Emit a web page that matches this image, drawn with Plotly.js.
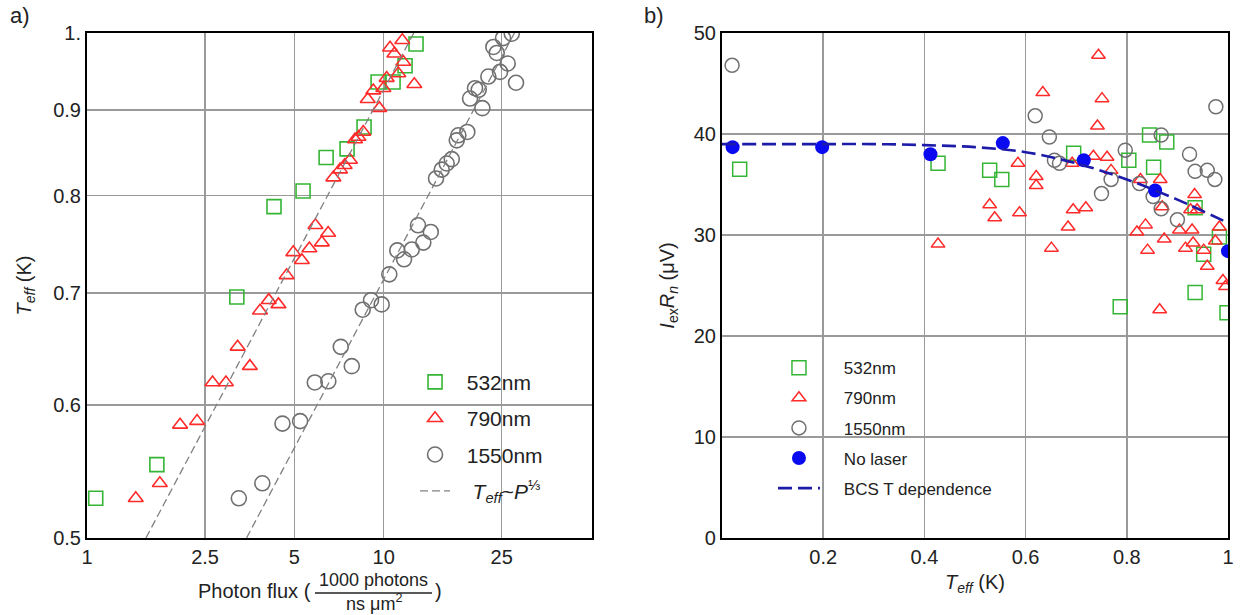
<!DOCTYPE html>
<html><head><meta charset="utf-8">
<script src="https://cdn.plot.ly/plotly-3.0.1.min.js"></script>
<style>html,body{margin:0;padding:0;background:#fff}#chart{width:1242px;height:615px}</style>
</head><body><div id="chart"></div>
<script>
// ---------- Panel a) : T_eff vs photon flux (log-log) ----------
const fluxA532 = [1.07, 1.72, 3.20, 4.27, 5.35, 6.40, 7.53, 8.59, 9.58, 10.76, 11.81, 12.86];
const teffA532 = [0.528, 0.553, 0.696, 0.788, 0.805, 0.843, 0.853, 0.879, 0.935, 0.935, 0.956, 0.985];

const fluxA790 = [1.46, 1.76, 2.06, 2.35, 2.65, 2.94, 3.22, 3.54, 3.83, 4.10, 4.42, 4.71, 4.96, 5.30, 5.62, 5.89, 6.19, 6.50, 6.77, 7.13, 7.39, 7.70, 8.01, 8.22, 8.54, 8.84, 9.23, 9.67, 9.98, 10.24, 11.21, 11.65, 10.51, 10.87, 11.56, 12.69];
const teffA790 = [0.528, 0.539, 0.584, 0.587, 0.619, 0.619, 0.650, 0.633, 0.683, 0.693, 0.689, 0.717, 0.740, 0.732, 0.744, 0.768, 0.750, 0.760, 0.820, 0.829, 0.834, 0.840, 0.864, 0.867, 0.873, 0.913, 0.924, 0.902, 0.927, 0.940, 0.946, 0.961, 0.980, 0.972, 0.990, 0.932];

const fluxA1550 = [3.25, 3.90, 4.56, 5.23, 5.86, 6.51, 7.17, 7.81, 8.50, 9.07, 9.85, 10.45, 11.12, 11.72, 12.44, 13.06, 13.61, 14.42, 15.02, 15.70, 16.32, 16.97, 17.64, 17.86, 19.15, 19.56, 20.33, 20.92, 21.52, 22.54, 23.44, 24.06, 24.69, 25.27, 26.2, 27.04, 27.95];
const teffA1550 = [0.528, 0.539, 0.585, 0.587, 0.619, 0.620, 0.650, 0.633, 0.684, 0.693, 0.689, 0.718, 0.742, 0.733, 0.743, 0.768, 0.750, 0.761, 0.819, 0.829, 0.836, 0.841, 0.863, 0.869, 0.873, 0.914, 0.927, 0.925, 0.902, 0.942, 0.981, 0.973, 0.948, 0.993, 0.959, 0.999, 0.934];

// fitted T_eff ~ P^(1/3) lines (end points)
const fitFlux = [1.58, 12.64, null, 3.45, 27.6];
const fitTeff = [0.5, 1.0, null, 0.5, 1.0];

const aXTicks = [1, 2.5, 5, 10, 25];
const aXTickText = ['1', '2.5', '5', '10', '25'];
const aYTicks = [0.5, 0.6, 0.7, 0.8, 0.9, 1.0];
const aYTickText = ['0.5', '0.6', '0.7', '0.8', '0.9', '1.'];

// ---------- Panel b) : I_ex R_n vs T_eff ----------
const teffB532 = [0.035, 0.427, 0.529, 0.553, 0.695, 0.804, 0.845, 0.879, 0.853, 0.935, 0.952, 0.983, 0.935, 0.787, 0.998];
const irnB532 = [36.5, 37.1, 36.4, 35.5, 38.1, 37.4, 39.9, 39.2, 36.7, 32.7, 28.1, 29.8, 24.3, 22.9, 22.3];

const teffB790 = [0.427, 0.744, 0.634, 0.751, 0.742, 0.585, 0.621, 0.621, 0.529, 0.539, 0.588, 0.692, 0.734, 0.761, 0.769, 0.694, 0.719, 0.684, 0.651, 0.866, 0.827, 0.837, 0.820, 0.874, 0.841, 0.870, 0.934, 0.926, 0.939, 0.929, 0.904, 0.916, 0.931, 0.952, 0.959, 0.983, 0.975, 0.990, 0.995, 0.865];
const irnB790 = [29.1, 47.8, 44.1, 43.5, 40.8, 37.1, 35.8, 34.9, 33.0, 31.7, 32.2, 37.1, 37.8, 37.7, 36.4, 32.5, 32.7, 30.8, 28.7, 35.5, 35.5, 31.0, 30.3, 29.6, 28.5, 32.8, 34.0, 32.5, 32.5, 30.5, 30.5, 28.7, 29.2, 28.5, 26.9, 30.8, 29.4, 25.5, 24.9, 22.6];

const teffB1550 = [0.020, 0.619, 0.647, 0.657, 0.667, 0.750, 0.769, 0.797, 0.825, 0.852, 0.868, 0.868, 0.900, 0.924, 0.935, 0.959, 0.974, 0.976];
const irnB1550 = [46.8, 41.8, 39.7, 37.4, 37.1, 34.1, 35.5, 38.4, 35.1, 33.8, 39.9, 32.6, 31.5, 38.0, 36.3, 36.4, 35.5, 42.7];

const teffNoLaser = [0.021, 0.198, 0.412, 0.555, 0.715, 0.856, 1.0];
const irnNoLaser = [38.7, 38.7, 38.0, 39.1, 37.4, 34.4, 28.4];

const bcsT = [0, 0.1, 0.2, 0.3, 0.4, 0.5, 0.6, 0.7, 0.8, 0.9, 1.0];
const bcsIR = [39.0, 39.0, 39.0, 39.0, 38.9, 38.7, 38.2, 37.1, 35.5, 33.5, 31.2];

const bXTicks = [0.2, 0.4, 0.6, 0.8, 1];
const bXTickText = ['0.2', '0.4', '0.6', '0.8', '1'];
const bYTicks = [0, 10, 20, 30, 40, 50];

// ---------- styling ----------
const FONT = 'Liberation Sans, Arial, sans-serif';
const GREEN = '#35b535', RED = '#ff2a2a', GREY = '#707070', BLUE = '#0a0af0', NAVY = '#1c1ca8';
const GRID = '#9a9a9a';
const TEFF = '<i>T</i><sub><i>eff</i></sub>';
const PADA = '\u00a0\u00a0';
const PADB = '\u00a0\u00a0\u00a0\u00a0';

const traces = [
  {x: fluxA532, y: teffA532, type: 'scatter', mode: 'markers', name: PADA + '532nm', legendgroup: 'a1',
   marker: {symbol: 'square-open', size: 14, color: GREEN, line: {width: 1.6}}},
  {x: fluxA790, y: teffA790, type: 'scatter', mode: 'markers', name: PADA + '790nm', legendgroup: 'a2',
   marker: {symbol: 'triangle-up-open', size: 13, color: RED, line: {width: 1.6}}},
  {x: fluxA1550, y: teffA1550, type: 'scatter', mode: 'markers', name: PADA + '1550nm', legendgroup: 'a3',
   marker: {symbol: 'circle-open', size: 15, color: GREY, line: {width: 1.6}}},
  {x: fitFlux, y: fitTeff, type: 'scatter', mode: 'lines', name: PADA + '\u00a0' + TEFF + '~<i>P</i><sup>⅓</sup>', legendgroup: 'a4',
   line: {color: '#808080', width: 1.3, dash: '8px,4px'}},

  {x: teffB532, y: irnB532, xaxis: 'x2', yaxis: 'y2', type: 'scatter', mode: 'markers', name: PADB + '532nm', legend: 'legend2', legendgroup: 'b1',
   marker: {symbol: 'square-open', size: 14, color: GREEN, line: {width: 1.5}}},
  {x: teffB790, y: irnB790, xaxis: 'x2', yaxis: 'y2', type: 'scatter', mode: 'markers', name: PADB + '790nm', legend: 'legend2', legendgroup: 'b2',
   marker: {symbol: 'triangle-up-open', size: 12, color: RED, line: {width: 1.5}}},
  {x: teffB1550, y: irnB1550, xaxis: 'x2', yaxis: 'y2', type: 'scatter', mode: 'markers', name: PADB + '1550nm', legend: 'legend2', legendgroup: 'b3',
   marker: {symbol: 'circle-open', size: 14, color: GREY, line: {width: 1.5}}},
  {x: teffNoLaser, y: irnNoLaser, xaxis: 'x2', yaxis: 'y2', type: 'scatter', mode: 'markers', name: PADB + 'No laser', legend: 'legend2', legendgroup: 'b4',
   marker: {symbol: 'circle', size: 14, color: BLUE}},
  {x: bcsT, y: bcsIR, xaxis: 'x2', yaxis: 'y2', type: 'scatter', mode: 'lines', name: PADB + 'BCS T dependence', legend: 'legend2', legendgroup: 'b5',
   line: {color: NAVY, width: 2.6, dash: '14px,6px', shape: 'spline'}}
];

const axisBase = {
  showgrid: true, gridcolor: GRID, gridwidth: 1.5,
  showline: true, linecolor: '#000', linewidth: 2, mirror: true,
  zeroline: false, ticks: '', tickfont: {size: 20, color: '#222', family: FONT}
};

const layout = {
  width: 1242, height: 615,
  margin: {l: 87, r: 14, t: 33, b: 77},
  paper_bgcolor: '#fff', plot_bgcolor: '#fff',
  font: {family: FONT, color: '#222'},
  xaxis: Object.assign({}, axisBase, {type: 'log', domain: [0, 0.4426], range: [0, 1.7025],
    tickvals: aXTicks, ticktext: aXTickText, anchor: 'y'}),
  yaxis: Object.assign({}, axisBase, {type: 'log', domain: [0, 1], range: [Math.log10(0.5), 0],
    tickvals: aYTicks, ticktext: aYTickText, anchor: 'x',
    title: {text: TEFF + ' (K)', font: {size: 20, family: FONT, color: '#222'}, standoff: 16}}),
  xaxis2: Object.assign({}, axisBase, {domain: [0.5565, 1], range: [0, 1],
    tickvals: bXTicks, ticktext: bXTickText, anchor: 'y2',
    title: {text: TEFF + ' (K)', font: {size: 20, family: FONT, color: '#222'}, standoff: 8}}),
  yaxis2: Object.assign({}, axisBase, {domain: [0, 1], range: [0, 50],
    tickvals: bYTicks, anchor: 'x2',
    title: {text: '<i>I</i><sub>ex</sub><i>R</i><sub><i>n</i></sub> (μV)', font: {size: 20, family: FONT, color: '#222'}, standoff: 14}}),
  legend: {x: 0.2875, y: 0.349, xanchor: 'left', yanchor: 'top', bgcolor: 'rgba(0,0,0,0)',
    font: {size: 21, family: FONT, color: '#222'}, tracegroupgap: 6, itemwidth: 30},
  legend2: {x: 0.6012, y: 0.372, xanchor: 'left', yanchor: 'top', bgcolor: 'rgba(0,0,0,0)',
    font: {size: 17, family: FONT, color: '#222'}, tracegroupgap: 5, itemwidth: 42},
  annotations: [
    {text: 'a)', xref: 'paper', yref: 'paper', x: -0.0692, y: 1.0356, xanchor: 'left', yanchor: 'middle', showarrow: false, font: {size: 22, family: FONT, color: '#222'}},
    {text: 'b)', xref: 'paper', yref: 'paper', x: 0.4864, y: 1.0356, xanchor: 'left', yanchor: 'middle', showarrow: false, font: {size: 22, family: FONT, color: '#222'}},
    {text: 'Photon flux (', xref: 'paper', yref: 'paper', x: 0.1981, y: -0.105, xanchor: 'right', yanchor: 'middle', showarrow: false, font: {size: 20, family: FONT, color: '#222'}},
    {text: '1000 photons', xref: 'paper', yref: 'paper', x: 0.2511, y: -0.0832, xanchor: 'center', yanchor: 'middle', showarrow: false, font: {size: 18, family: FONT, color: '#222'}},
    {text: 'ns μm<sup>2</sup>', xref: 'paper', yref: 'paper', x: 0.2511, y: -0.1287, xanchor: 'center', yanchor: 'middle', showarrow: false, font: {size: 18, family: FONT, color: '#222'}},
    {text: ')', xref: 'paper', yref: 'paper', x: 0.3032, y: -0.105, xanchor: 'left', yanchor: 'middle', showarrow: false, font: {size: 20, family: FONT, color: '#222'}}
  ],
  shapes: [
    {type: 'line', xref: 'paper', yref: 'paper', x0: 0.1998, x1: 0.3024, y0: -0.1089, y1: -0.1089, line: {color: '#222', width: 1.5}}
  ]
};

Plotly.newPlot('chart', traces, layout, {displayModeBar: false, staticPlot: true});
</script>
</body></html>
